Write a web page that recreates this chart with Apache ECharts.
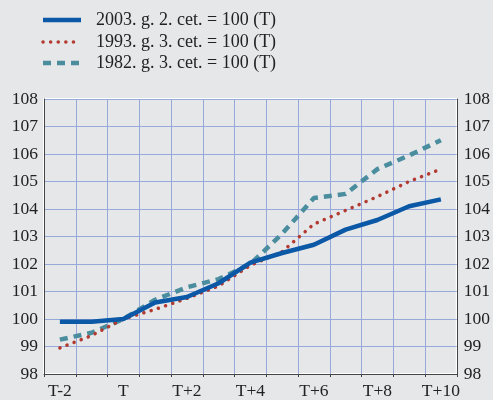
<!DOCTYPE html>
<html>
<head>
<meta charset="utf-8">
<script src="https://cdn.jsdelivr.net/npm/echarts@6/dist/echarts.min.js"></script>
<style>
  html, body { margin: 0; padding: 0; background: #e6e7e9; }
  #chart { width: 493px; height: 400px; }
</style>
</head>
<body>
<div id="chart"></div>
<script>
// četrtletja okrog T
const categories = ['T-2', 'T-1', 'T', 'T+1', 'T+2', 'T+3', 'T+4', 'T+5', 'T+6', 'T+7', 'T+8', 'T+9', 'T+10'];
const seriesNames = ['2003. g. 2. cet. = 100 (T)', '1993. g. 3. cet. = 100 (T)', '1982. g. 3. cet. = 100 (T)'];
const s2003 = [99.9, 99.9, 100.0, 100.6, 100.8, 101.3, 102.05, 102.4, 102.7, 103.25, 103.6, 104.1, 104.35];
const s1993 = [98.95, 99.4, 100.0, 100.35, 100.75, 101.2, 101.95, 102.45, 103.45, 103.95, 104.45, 105.0, 105.45];
const s1982 = [99.25, 99.5, 100.0, 100.7, 101.15, 101.45, 102.0, 103.1, 104.4, 104.55, 105.45, 105.95, 106.5];

const font = '"Liberation Serif", "Times New Roman", serif';
const gridColor = '#97a8da';
const colors = ['#0a58a6', '#b23a30', '#4a8d9e'];
const lineStyles = [
  { width: 4.5, type: 'solid', cap: 'butt' },
  { width: 3.5, type: [0.1, 7.5], cap: 'round' },
  { width: 4.5, type: [8, 6], cap: 'butt' }
];

// legenda narisana rocno (crta + besedilo)
const legendRows = [20, 42, 63];
const legendGraphic = [];
seriesNames.forEach(function (name, i) {
  const ls = lineStyles[i];
  legendGraphic.push({
    type: 'line',
    shape: { x1: 43, y1: legendRows[i], x2: 81, y2: legendRows[i] },
    style: {
      stroke: colors[i], lineWidth: ls.width, lineCap: ls.cap,
      lineDash: Array.isArray(ls.type) ? ls.type : null
    }
  });
  legendGraphic.push({
    type: 'text',
    x: 96, y: legendRows[i],
    style: { text: name, font: '18px ' + font, fill: '#222', verticalAlign: 'middle' }
  });
});

const chart = echarts.init(document.getElementById('chart'));
const option = {
  backgroundColor: '#e6e7e9',
  textStyle: { fontFamily: font },
  graphic: legendGraphic,
  grid: {
    left: 44, right: 34, top: 99, bottom: 25,
    show: true,
    borderColor: '#ffffff',
    borderWidth: 2,
    backgroundColor: 'transparent'
  },
  xAxis: {
    type: 'category',
    data: categories,
    boundaryGap: true,
    axisLine: { lineStyle: { color: '#444', width: 1 } },
    axisTick: { show: true, length: 3, interval: 0, lineStyle: { color: '#444' } },
    axisLabel: { interval: 1, fontFamily: font, fontSize: 17.5, color: '#222', margin: 8 },
    splitLine: { show: true, interval: 0, lineStyle: { color: gridColor, width: 1 } }
  },
  yAxis: [
    {
      type: 'value', min: 98, max: 108, interval: 1, position: 'left',
      axisLine: { show: true, lineStyle: { color: '#444' } },
      axisTick: { show: false },
      axisLabel: { fontFamily: font, fontSize: 17.5, color: '#222', margin: 6 },
      splitLine: { show: true, lineStyle: { color: gridColor, width: 1 } }
    },
    {
      type: 'value', min: 98, max: 108, interval: 1, position: 'right',
      axisLine: { show: true, lineStyle: { color: '#444' } },
      axisTick: { show: false },
      axisLabel: { fontFamily: font, fontSize: 17.5, color: '#222', margin: 7 },
      splitLine: { show: false }
    }
  ],
  series: [s2003, s1993, s1982].map(function (data, i) {
    return {
      name: seriesNames[i], type: 'line', data: data, showSymbol: false, symbol: 'none',
      lineStyle: Object.assign({ color: colors[i] }, lineStyles[i]),
      z: 4 - i
    };
  })
};
chart.setOption(option);
</script>
</body>
</html>
